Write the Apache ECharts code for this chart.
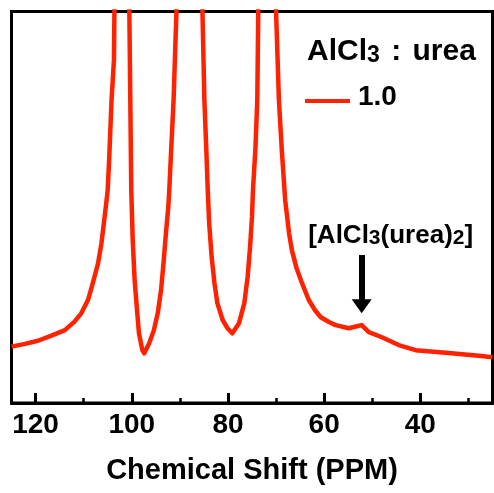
<!DOCTYPE html>
<html>
<head>
<meta charset="utf-8">
<script src="https://cdn.jsdelivr.net/npm/echarts@6/dist/echarts.min.js"></script>
<style>
html,body{margin:0;padding:0;background:#fff;}
#chart{width:494px;height:493px;}
</style>
</head>
<body>
<div id="chart"></div>
<script>
// Chemical shift (ppm) and intensity (arbitrary units, 0-100 = visible window)
const shiftPPM = [
  125.0, 122.2, 119.5, 116.7, 113.9, 111.9, 110.5, 109.1, 108.1, 107.0, 106.3, 105.8, 105.3, 105.0, 104.7, 104.2, 103.7, 103.6,
  102.0,
  100.5, 100.3, 100.1, 99.8, 99.4, 98.9, 98.5, 97.8, 97.4, 96.4, 95.4, 94.6, 93.9, 93.4, 92.9, 92.4, 92.2, 91.8, 91.3, 90.9, 90.7,
  88.0,
  85.3, 84.9, 84.5, 84.2, 83.9, 83.4, 82.8, 82.2, 81.1, 80.1, 79.1, 77.7, 76.6, 75.9, 75.4, 75.0, 74.8, 74.3, 73.9, 73.7,
  71.9,
  70.0, 69.4, 68.8, 68.1, 67.3, 66.7, 65.8, 64.6, 63.2, 61.9, 60.7, 59.0, 57.6, 54.9, 53.2, 52.2, 50.7, 48.0, 44.5, 41.0, 34.1, 27.3, 25.0
];
const intensity = [
  14.4, 15.1, 15.9, 17.2, 18.6, 20.8, 22.9, 26.3, 30.6, 35.7, 40.8, 45.9, 51.0, 54.4, 62.1, 77.4, 87.6, 100,
  400,
  100, 77.4, 54.4, 41.6, 31.4, 23.7, 17.8, 13.5, 12.7, 15.2, 18.6, 22.9, 28.9, 35.7, 43.3, 50.1, 54.4, 64.7, 77.4, 92.7, 100,
  400,
  100, 77.4, 64.7, 54.4, 45.9, 37.4, 30.6, 25.5, 21.2, 19.1, 17.8, 20.4, 25.5, 32.3, 39.9, 47.6, 54.4, 64.7, 77.4, 100,
  400,
  100, 77.3, 64.5, 51.8, 43.4, 39.0, 34.7, 30.6, 26.3, 23.7, 21.9, 20.7, 19.9, 19.1, 19.6, 19.9, 18.1, 16.8, 14.8, 13.5, 12.8, 12.0, 11.7
];
const majorTicks = [120, 100, 80, 60, 40];
const minorTicks = [110, 90, 70, 50, 30];
const seriesName = '1.0';
const legendTitle = 'AlCl{s|3} {c|:} urea';
const annotationText = '[AlCl{s|3}(urea){s|2}]';
const arrowX = 52.2;
const arrowFrom = 37.8;
const arrowTo = 24.7;

const data = shiftPPM.map((x, i) => [x, intensity[i]]);
const RED = '#ff2200';
const FONT = 'Liberation Sans, Arial, sans-serif';

const chart = echarts.init(document.getElementById('chart'), null, {renderer: 'canvas'});
chart.setOption({
  animation: false,
  backgroundColor: '#fff',
  title: {
    text: legendTitle,
    left: 307,
    top: 37,
    padding: 0,
    textStyle: {
      fontFamily: FONT, fontWeight: 'bold', fontSize: 30, color: '#000', lineHeight: 30,
      rich: {
        s: { fontFamily: FONT, fontWeight: 'bold', fontSize: 23, lineHeight: 13, verticalAlign: 'bottom', color: '#000' },
        c: { fontFamily: FONT, fontWeight: 'bold', fontSize: 30, lineHeight: 30, padding: [0, 3, 0, 3], color: '#000' }
      }
    }
  },
  legend: {
    data: [seriesName],
    left: 305,
    top: 83,
    padding: 0,
    icon: 'path://M0,0L0,0M0,8L45,8L45,12L0,12Z',
    itemWidth: 45,
    itemHeight: 12,
    textStyle: { fontFamily: FONT, fontWeight: 'bold', fontSize: 28, color: '#000', padding: [0, 0, 0, 3] }
  },
  grid: {
    left: 11.5, right: 1.5, top: 11.5, bottom: 90,
    show: true, borderColor: '#000', borderWidth: 3, backgroundColor: 'transparent'
  },
  xAxis: [
    {
      type: 'value', inverse: true, min: 25, max: 125,
      name: 'Chemical Shift (PPM)', nameLocation: 'middle', nameGap: 53,
      nameTextStyle: { fontFamily: FONT, fontWeight: 'bold', fontSize: 29, color: '#000' },
      axisLine: { show: true, lineStyle: { color: '#000', width: 3 } },
      axisTick: { show: true, inside: true, length: 10, lineStyle: { color: '#000', width: 3 }, customValues: majorTicks },
      axisLabel: { show: true, margin: 8, fontFamily: FONT, fontWeight: 'bold', fontSize: 28, color: '#000', customValues: majorTicks },
      splitLine: { show: false }
    },
    {
      type: 'value', inverse: true, min: 25, max: 125, position: 'bottom',
      axisLine: { show: false },
      axisTick: { show: true, inside: true, length: 5, lineStyle: { color: '#000', width: 2.5 }, customValues: minorTicks },
      axisLabel: { show: false },
      splitLine: { show: false }
    }
  ],
  yAxis: {
    type: 'value', min: 0, max: 100,
    axisLine: { show: false }, axisTick: { show: false }, axisLabel: { show: false }, splitLine: { show: false }
  },
  series: [{
    name: seriesName,
    type: 'line',
    data: data,
    xAxisIndex: 0,
    symbol: 'none',
    clip: true,
    lineStyle: { color: RED, width: 4.5, join: 'round' },
    itemStyle: { color: RED },
    z: 2,
    markLine: {
      silent: true,
      symbol: ['none', 'triangle'],
      symbolSize: [20, 14],
      lineStyle: { color: '#000', width: 6, type: 'solid' },
      itemStyle: { color: '#000' },
      label: {
        show: true, position: 'start', distance: 6,
        formatter: annotationText,
        fontFamily: FONT, fontWeight: 'bold', fontSize: 26, color: '#000', lineHeight: 26,
        offset: [29, 0],
        rich: { s: { fontFamily: FONT, fontWeight: 'bold', fontSize: 21, lineHeight: 11, verticalAlign: 'bottom', color: '#000' } }
      },
      data: [[ { coord: [arrowX, arrowFrom] }, { coord: [arrowX, arrowTo] } ]]
    }
  }]
});
</script>
</body>
</html>
